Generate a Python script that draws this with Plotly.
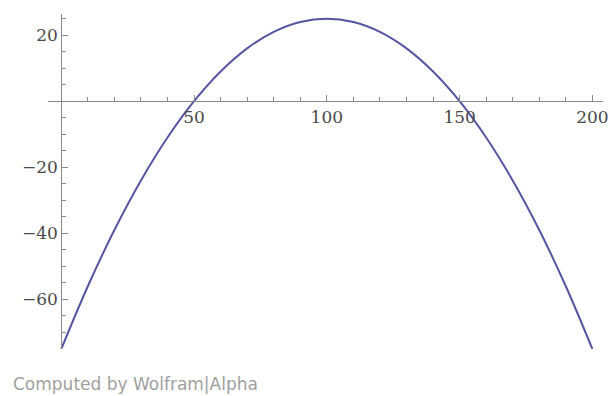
import plotly.graph_objects as go

# Curve values
x_vals = [0, 10, 20, 30, 40, 50, 60, 70, 80, 90, 100, 110, 120, 130, 140, 150, 160, 170, 180, 190, 200]
y_vals = [-75, -56, -39, -24, -11, 0, 9, 16, 21, 24, 25, 24, 21, 16, 9, 0, -11, -24, -39, -56, -75]

x_ticks = [50, 100, 150, 200]
y_ticks = [-60, -40, -20, 20]

X_RANGE = [-5, 204]
Y_RANGE = [-75, 26.4]

axis_col = "#8a8a8a"
label_col = "#4a4a4a"
tick_font = dict(family="DejaVu Serif", size=17, color=label_col)

fig = go.Figure()
fig.add_trace(go.Scatter(
    x=x_vals, y=y_vals, mode="lines",
    line=dict(color="#5555a2", width=2, shape="spline", smoothing=1.0),
    hoverinfo="skip", showlegend=False,
))

fig.update_layout(
    width=609, height=396, autosize=False,
    margin=dict(l=48, r=6, t=14, b=47),
    paper_bgcolor="white", plot_bgcolor="white",
    xaxis=dict(
        range=X_RANGE, showgrid=False, zeroline=False,
        showline=True, linecolor=axis_col, linewidth=1,
        anchor="free", position=(0 - Y_RANGE[0]) / (Y_RANGE[1] - Y_RANGE[0]),
        tickmode="array", tickvals=x_ticks, ticktext=[str(v) for v in x_ticks],
        ticks="inside", ticklen=6, tickcolor=axis_col, tickwidth=1,
        tickfont=tick_font, automargin=False,
        minor=dict(tick0=0, dtick=10, ticks="inside", ticklen=4, tickcolor=axis_col, showgrid=False),
    ),
    yaxis=dict(
        range=Y_RANGE, showgrid=False, zeroline=False,
        showline=True, linecolor=axis_col, linewidth=1,
        anchor="free", position=(0 - X_RANGE[0]) / (X_RANGE[1] - X_RANGE[0]),
        tickmode="array", tickvals=y_ticks, ticktext=[("\u2212" + str(-v)) if v < 0 else str(v) for v in y_ticks],
        ticks="inside", ticklen=6, tickcolor=axis_col, tickwidth=1,
        tickfont=tick_font, automargin=False,
        minor=dict(tick0=0, dtick=5, ticks="inside", ticklen=4, tickcolor=axis_col, showgrid=False),
    ),
    annotations=[dict(
        text="Computed by Wolfram|Alpha", xref="paper", yref="paper",
        x=(11 - 48) / 555, y=(349 - 384) / 335, xanchor="left", yanchor="middle",
        showarrow=False, font=dict(family="DejaVu Sans", size=17, color="#a0a0a0"),
    )],
)

fig.write_html("out.html", config={"displayModeBar": False},
               post_script="document.body.style.margin='0';document.body.style.padding='0';")
